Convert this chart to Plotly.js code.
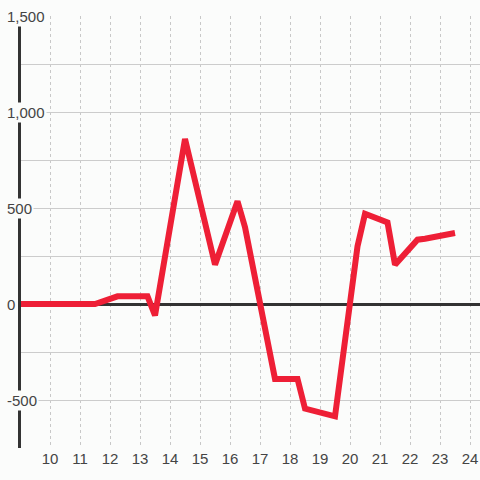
<!DOCTYPE html>
<html>
<head>
<meta charset="utf-8">
<script src="https://cdn.plot.ly/plotly-3.0.1.min.js"></script>
<style>
  html, body { margin: 0; padding: 0; background: #fbfcfb; }
  #chart { width: 480px; height: 480px; }
</style>
</head>
<body>
<div id="chart"></div>
<script>
// Data (hour of day vs value)
const hours  = [9, 11.5, 12.25, 13.25, 13.5, 14.5, 15.5, 16.25, 16.5, 17.5, 18.25, 18.5, 19.5, 20.25, 20.5, 21.25, 21.5, 22.25, 22.5, 23.5];
const values = [0, 0, 40, 40, -60, 860, 205, 535, 400, -390, -390, -545, -585, 300, 470, 425, 205, 335, 340, 370];

// Axis ticks
const xTickVals = [10, 11, 12, 13, 14, 15, 16, 17, 18, 19, 20, 21, 22, 23, 24];
const yGridVals = [-750, -500, -250, 0, 250, 500, 750, 1000, 1250, 1500];
const yLabelVals = [1500, 1000, 500, 0, -500];
const yLabelText = ['1,500', '1,000', '500', '0', '-500'];

const BG = '#fbfcfb';
const FONT = 'Liberation Sans, Arial, sans-serif';

const trace = {
  x: hours,
  y: values,
  type: 'scatter',
  mode: 'lines',
  line: { color: '#ee1f36', width: 6 },
  hoverinfo: 'skip'
};

const annotations = yLabelVals.map((v, i) => ({
  xref: 'paper', yref: 'y',
  x: 0, y: v,
  xanchor: 'left', yanchor: 'middle',
  xshift: -16,
  text: yLabelText[i],
  showarrow: false,
  bgcolor: BG,
  borderpad: 1,
  font: { family: FONT, size: 15, color: '#444' }
}));

const layout = {
  width: 480, height: 480,
  margin: { l: 21, r: 0, t: 16, b: 32 },
  paper_bgcolor: BG,
  plot_bgcolor: BG,
  showlegend: false,
  xaxis: {
    range: [9.033, 24.333],
    tickmode: 'array',
    tickvals: xTickVals,
    ticks: '',
    showline: false,
    zeroline: false,
    showgrid: true,
    gridcolor: '#c8c8c8',
    gridwidth: 1,
    griddash: '3px,3px',
    tickfont: { family: FONT, size: 15, color: '#444' }
  },
  yaxis: {
    range: [-750, 1500],
    tickmode: 'array',
    tickvals: yGridVals,
    showticklabels: false,
    ticks: '',
    showgrid: true,
    gridcolor: '#cccccc',
    gridwidth: 1,
    zeroline: true,
    zerolinecolor: '#333333',
    zerolinewidth: 3,
    showline: true,
    linecolor: '#333333',
    linewidth: 3,
    layer: 'below traces'
  },
  annotations: annotations
};

Plotly.newPlot('chart', [trace], layout, { staticPlot: true, displayModeBar: false });
</script>
</body>
</html>
